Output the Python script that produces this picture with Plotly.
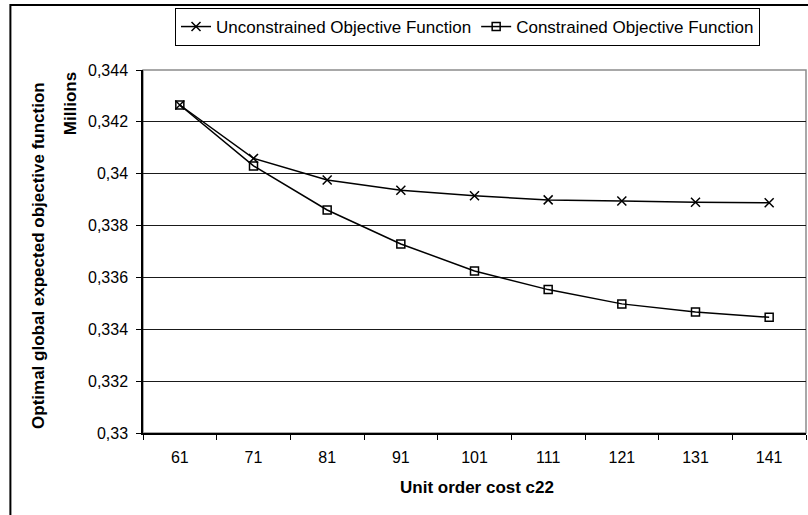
import plotly.graph_objects as go

# Unit order cost c22 (categories on the x axis)
unit_cost = ["61", "71", "81", "91", "101", "111", "121", "131", "141"]

# Optimal global expected objective function, in millions
unconstrained = [0.34265, 0.34059, 0.33976, 0.33936, 0.33915, 0.33899, 0.33895, 0.33890, 0.33888]
constrained = [0.34265, 0.34030, 0.33860, 0.33729, 0.33625, 0.33553, 0.33498, 0.33467, 0.33446]

series_names = ["Unconstrained Objective Function", "Constrained Objective Function"]

FONT = "Liberation Sans, Arial, sans-serif"

fig = go.Figure()

fig.add_trace(go.Scatter(
    x=unit_cost, y=unconstrained, name=series_names[0],
    mode="lines+markers",
    line=dict(color="black", width=1.5),
    marker=dict(symbol="x-thin", size=9, color="black",
                line=dict(color="black", width=1.5)),
))
fig.add_trace(go.Scatter(
    x=unit_cost, y=constrained, name=series_names[1],
    mode="lines+markers",
    line=dict(color="black", width=1.5),
    marker=dict(symbol="square-open", size=8, color="black",
                line=dict(color="black", width=1.5)),
))

# Gray frame around the plot area
fig.add_shape(type="rect", xref="paper", yref="paper", x0=0, x1=1, y0=0, y1=1,
              line=dict(color="#8c8c8c", width=1.5), layer="below")
# Outer chart border
fig.add_shape(type="rect", xref="paper", yref="paper", x0=-0.2, x1=1.2, y0=-0.6, y1=1.179,
              line=dict(color="black", width=2), layer="below")

fig.update_layout(
    width=808, height=515,
    margin=dict(l=143, r=2, t=70, b=82),
    paper_bgcolor="white", plot_bgcolor="white",
    separators=", ",
    font=dict(family=FONT, size=16, color="black"),
    showlegend=True,
    legend=dict(
        orientation="h", x=0.0483, y=1.1708, xanchor="left", yanchor="top",
        bgcolor="white", bordercolor="black", borderwidth=1,
        font=dict(family=FONT, size=17, color="black"),
        itemwidth=30, tracegroupgap=0,
    ),
    xaxis=dict(
        type="category", range=[-0.5, 8.5],
        showline=True, linecolor="black", linewidth=1.5,
        ticks="outside", ticklen=5, tickcolor="black", tickson="boundaries",
        showgrid=False, zeroline=False,
        tickfont=dict(family=FONT, size=16, color="black"),
        ticklabelstandoff=9,
    ),
    yaxis=dict(
        range=[0.33, 0.344], dtick=0.002, tick0=0.33,
        showline=True, linecolor="black", linewidth=1.5,
        ticks="outside", ticklen=5, tickcolor="black",
        showgrid=True, gridcolor="#1a1a1a", gridwidth=1,
        zeroline=False,
        tickfont=dict(family=FONT, size=16, color="black"),
        ticklabelstandoff=5,
    ),
    annotations=[
        dict(text="<b>Unit order cost c22</b>", xref="paper", yref="paper",
             x=0.5038, y=-0.1515, xanchor="center", yanchor="middle",
             showarrow=False, font=dict(family=FONT, size=17, color="black")),
        dict(text="<b>Optimal global expected objective function</b>", xref="paper", yref="paper",
             x=-0.1569, y=0.4904, xanchor="center", yanchor="middle", textangle=-90,
             showarrow=False, font=dict(family=FONT, size=17, color="black")),
        dict(text="<b>Millions</b>", xref="paper", yref="paper",
             x=-0.1101, y=0.906, xanchor="center", yanchor="middle", textangle=-90,
             showarrow=False, font=dict(family=FONT, size=17, color="black")),
    ],
)

fig.write_html("out.html")
